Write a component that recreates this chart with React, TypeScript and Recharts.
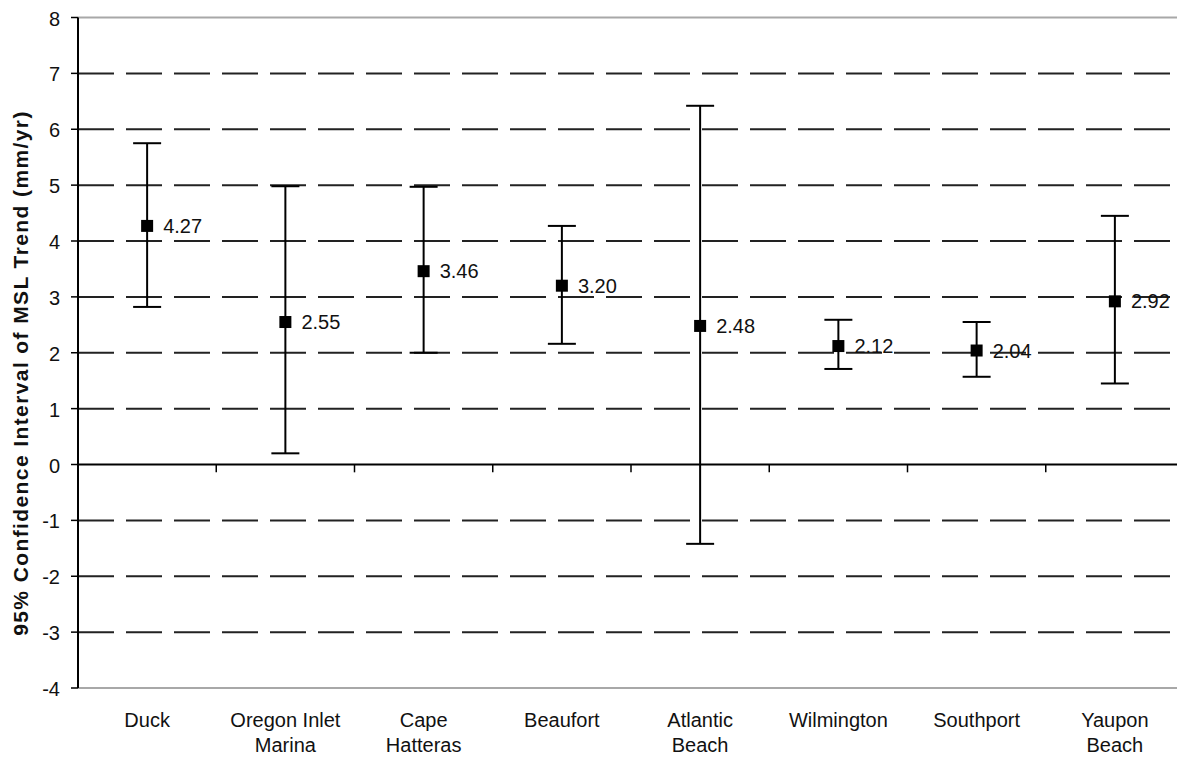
import React from "react";
import {
  LineChart,
  Line,
  XAxis,
  YAxis,
  ErrorBar,
  ReferenceLine,
  LabelList,
} from "recharts";

// stations along the NC coast
const sites = [
  "Duck",
  "Oregon Inlet Marina",
  "Cape Hatteras",
  "Beaufort",
  "Atlantic Beach",
  "Wilmington",
  "Southport",
  "Yaupon Beach",
];
const siteLines = [
  ["Duck"],
  ["Oregon Inlet", "Marina"],
  ["Cape", "Hatteras"],
  ["Beaufort"],
  ["Atlantic", "Beach"],
  ["Wilmington"],
  ["Southport"],
  ["Yaupon", "Beach"],
];
const trend = [4.27, 2.55, 3.46, 3.2, 2.48, 2.12, 2.04, 2.92];
const upper = [5.75, 4.98, 4.97, 4.27, 6.42, 2.59, 2.55, 4.45];
const lower = [2.82, 0.2, 2.0, 2.16, -1.42, 1.71, 1.57, 1.45];

const yTicks = [-4, -3, -2, -1, 0, 1, 2, 3, 4, 5, 6, 7, 8];
const dashedLines = [-3, -2, -1, 1, 2, 3, 4, 5, 6, 7];
const boundaries = [1, 2, 3, 4, 5, 6, 7];

// each site sits in the middle of its own slot on a 0..8 axis
const data = sites.map((site, i) => ({
  site,
  pos: i + 0.5,
  trend: trend[i],
  err: [trend[i] - lower[i], upper[i] - trend[i]],
}));
const siteTicks = data.map((d) => d.pos);

const FONT = "'Liberation Sans', Arial, sans-serif";

const SiteTick = (props: any) => {
  const { x, y, payload } = props;
  const lines = siteLines[Math.floor(payload.value)] || [];
  return (
    <text x={x} y={y} textAnchor="middle" fontFamily={FONT} fontSize={20} fill="#111">
      {lines.map((l: string, k: number) => (
        <tspan key={k} x={x} y={y + 39 + k * 25}>
          {l}
        </tspan>
      ))}
    </text>
  );
};

const SquareDot = (props: any) => {
  const { cx, cy } = props;
  if (cx == null || cy == null) return null;
  return <rect x={cx - 6} y={cy - 6} width={12} height={12} fill="#000" />;
};

const ValueLabel = (props: any) => {
  const { x, y, value } = props;
  return (
    <text x={x + 16} y={y + 7} fontFamily={FONT} fontSize={20} fill="#111">
      {Number(value).toFixed(2)}
    </text>
  );
};

const YTitle = () => (
  <text
    x={20}
    y={373}
    transform="rotate(-90 20 373)"
    textAnchor="middle"
    dominantBaseline="central"
    fontFamily={FONT}
    fontSize={21}
    fontWeight="bold"
    letterSpacing={1.4}
    fill="#111"
  >
    95% Confidence Interval of MSL Trend (mm/yr)
  </text>
);

export default function App() {
  return (
    <div
      style={{
        position: "absolute",
        left: 0,
        top: 0,
        width: 1177,
        height: 758,
        overflow: "hidden",
        background: "#fff",
      }}
    >
      <LineChart
        width={1184}
        height={758}
        data={data}
        margin={{ top: 17.5, right: 0, bottom: 0, left: 0 }}
      >
        <XAxis
          dataKey="pos"
          type="number"
          domain={[0, 8]}
          allowDataOverflow
          ticks={siteTicks}
          interval={0}
          height={70}
          axisLine={false}
          tickLine={false}
          tickSize={0}
          tickMargin={0}
          tick={<SiteTick />}
        />
        <YAxis
          width={78}
          domain={[-4, 8]}
          ticks={yTicks}
          interval={0}
          allowDataOverflow
          axisLine={{ stroke: "#000", strokeWidth: 2 }}
          tickLine={{ stroke: "#000", strokeWidth: 1.5 }}
          tickSize={7}
          tickMargin={11}
          tick={{ fontFamily: FONT, fontSize: 20, fill: "#111", dy: 1 }}
          label={{ content: () => <YTitle /> }}
        />
        <ReferenceLine y={8} stroke="#a8a8a8" strokeWidth={2} />
        <ReferenceLine y={-4} stroke="#a8a8a8" strokeWidth={2} />
        {dashedLines.map((v) => (
          <ReferenceLine
            key={v}
            y={v}
            stroke="#222"
            strokeWidth={2}
            strokeDasharray="36 12"
          />
        ))}
        <ReferenceLine y={0} stroke="#000" strokeWidth={2} />
        {boundaries.map((b) => (
          <ReferenceLine
            key={"b" + b}
            segment={[
              { x: b, y: 0 },
              { x: b, y: -0.14 },
            ]}
            stroke="#000"
            strokeWidth={1.5}
          />
        ))}
        <Line
          dataKey="trend"
          stroke="none"
          dot={<SquareDot />}
          activeDot={false}
          isAnimationActive={false}
        >
          <ErrorBar
            dataKey="err"
            width={14}
            stroke="#000"
            strokeWidth={2}
            isAnimationActive={false}
          />
          <LabelList dataKey="trend" content={<ValueLabel />} />
        </Line>
      </LineChart>
    </div>
  );
}
